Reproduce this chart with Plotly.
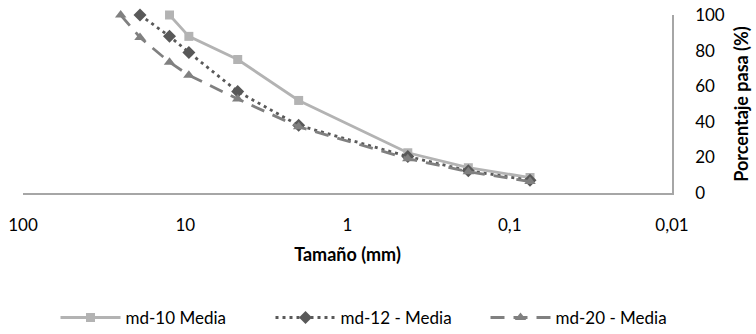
import plotly.graph_objects as go

# Sieve sizes (mm)
size_md10 = [12.5, 9.5, 4.75, 2.0, 0.425, 0.18, 0.075]
pass_md10 = [100, 88, 75, 52, 22.6, 14.2, 8.7]

size_md12 = [19, 12.5, 9.5, 4.75, 2.0, 0.425, 0.18, 0.075]
pass_md12 = [100, 88, 79, 57, 38, 20.5, 12.5, 7.2]

size_md20 = [25, 19, 12.5, 9.5, 4.75, 2.0, 0.425, 0.18, 0.075]
pass_md20 = [100, 87.4, 73.5, 66.2, 52.8, 37.2, 19.3, 12, 6.4]

series_names = ["md-10 Media", "md-12 - Media", "md-20 - Media"]

x_tickvals = [100, 10, 1, 0.1, 0.01]
x_ticktext = ["100", "10", "1", "0,1", "0,01"]
y_tickvals = [0, 20, 40, 60, 80, 100]

FONT = "Lato"

fig = go.Figure()
fig.add_trace(go.Scatter(
    x=size_md10, y=pass_md10, name=series_names[0], mode="lines+markers",
    line=dict(color="#b3b3b3", width=2.8, dash="solid"),
    marker=dict(symbol="square", size=9, color="#b3b3b3"),
    cliponaxis=False,
))
fig.add_trace(go.Scatter(
    x=size_md12, y=pass_md12, name=series_names[1], mode="lines+markers",
    line=dict(color="#595959", width=2.8, dash="3px,4px"),
    marker=dict(symbol="diamond", size=10, color="#595959"),
    cliponaxis=False,
))
fig.add_trace(go.Scatter(
    x=size_md20, y=pass_md20, name=series_names[2], mode="lines+markers",
    line=dict(color="#808080", width=2.8, dash="14px,9px"),
    marker=dict(symbol="triangle-up", size=10, color="#808080"),
    cliponaxis=False,
))

fig.update_layout(
    width=756, height=334,
    margin=dict(l=23, r=84, t=15, b=141, autoexpand=False),
    paper_bgcolor="white", plot_bgcolor="white",
    font=dict(family=FONT, size=17, color="#000000"),
    showlegend=True,
    legend=dict(orientation="h", xref="container", yref="container",
                x=0.5, xanchor="center", y=0.048, yanchor="middle",
                font=dict(size=17), itemwidth=60, tracegroupgap=0,
                entrywidth=140, entrywidthmode="pixels",
                bgcolor="rgba(0,0,0,0)"),
    xaxis=dict(
        type="log", range=[2, -2],
        tickvals=x_tickvals, ticktext=x_ticktext,
        showgrid=False, zeroline=False,
        showline=True, linecolor="#a6a6a6", linewidth=1.5,
        ticks="", ticklabelstandoff=16,
        title=dict(text="<b>Tamaño (mm)</b>", font=dict(size=18), standoff=14),
    ),
    yaxis=dict(
        side="right", range=[0, 100],
        tickvals=y_tickvals,
        showgrid=False, zeroline=False,
        showline=True, linecolor="#a6a6a6", linewidth=1.5,
        ticks="", ticklabelstandoff=18,
        title=dict(text="<b>Porcentaje pasa (%)</b>", font=dict(size=18), standoff=12),
    ),
)

fig.write_html("out.html", config={"displayModeBar": False},
               post_script="document.body.style.margin='0';document.body.style.overflow='hidden';")
